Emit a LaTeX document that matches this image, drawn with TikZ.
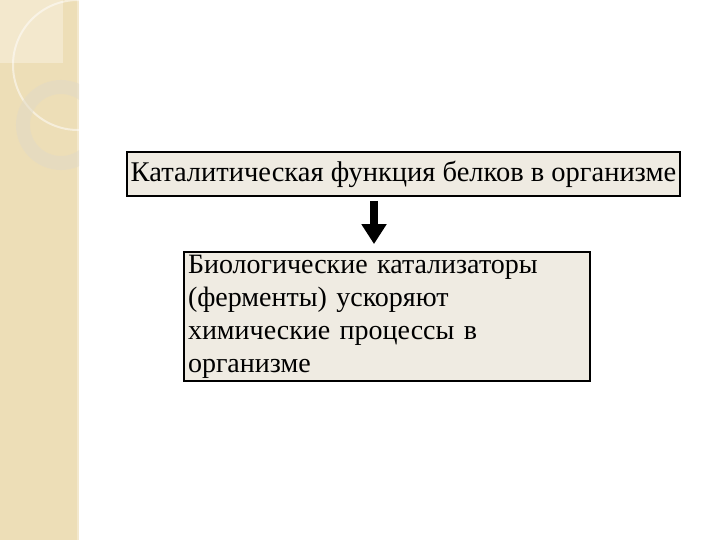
\documentclass[tikz,border=0pt]{standalone}
\usepackage{fontspec}
\setmainfont{Liberation Serif}
\usetikzlibrary{positioning, arrows.meta}
\definecolor{stripbg}{HTML}{EDDEB7}
\definecolor{striplt}{HTML}{F3E8CD}
\definecolor{ringcol}{HTML}{E2DAC6}
\definecolor{boxfill}{HTML}{EFEBE2}
\begin{document}
\begin{tikzpicture}[x=1pt, y=-1pt, every node/.style={font=\fontsize{28}{33}\selectfont}, textbox/.style={draw, line width=1.8pt, fill=boxfill, inner xsep=4pt, inner ysep=0pt}, bigarrow/.style={line width=8pt, -{Triangle[width=24pt, length=20pt]}}]
            \useasboundingbox (0,0) rectangle (720,540);
            % side strip
            \fill[stripbg] (0,0) rectangle (79,540);
            \fill[striplt] (0,0) rectangle (63,63);
            \fill[striplt] (76.5,0) rectangle (79,540);
            \begin{scope}
                \clip (0,0) rectangle (79,540);
                \draw[white, opacity=0.5, line width=2pt] (78,65) circle[radius=65];
                \draw[ringcol, opacity=0.55, line width=14pt] (61,125) circle[radius=38];
            \end{scope}
            % level 0
            \node[textbox, minimum width=553pt, minimum height=44pt, inner xsep=1.5pt, font=\fontsize{28.5}{33}\selectfont] (title) at (403.5,174) {Каталитическая функция белков в организме};
            % level 1
            \node[textbox, minimum width=406pt, minimum height=129pt, text width=398pt, align=left] (body) at (387,316.5) {Биологические катализаторы (ферменты) ускоряют химические процессы в организме};
            \draw[bigarrow] ([xshift=-29.5pt, yshift=-4pt]title.south) -- ([xshift=-13pt, yshift=7pt]body.north);
        \end{tikzpicture}
\end{document}
